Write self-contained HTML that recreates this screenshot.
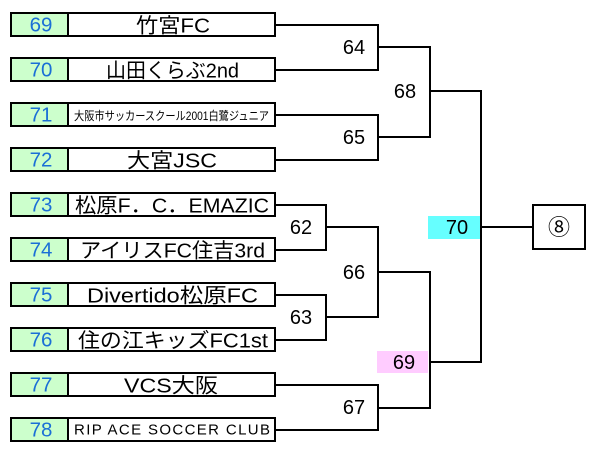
<!DOCTYPE html>
<html><head><meta charset="utf-8">
<style>
html,body{margin:0;padding:0;background:#fff;}
svg{display:block;}
text{font-family:"Liberation Sans","Noto Sans CJK JP",sans-serif;}
</style></head>
<body>
<svg width="600" height="453" viewBox="0 0 600 453" xmlns="http://www.w3.org/2000/svg">
<rect x="0" y="0" width="600" height="453" fill="#fff"/>

<rect x="428" y="216" width="52" height="23" fill="#66ffff"/>
<rect x="377" y="351" width="51" height="22" fill="#ffccff"/>

<g stroke="#000" stroke-width="2" fill="none">
  <polyline points="276,25 378,25 378,70 276,70"/>
  <polyline points="276,115 378,115 378,160 276,160"/>
  <polyline points="276,205 326,205 326,250 276,250"/>
  <polyline points="276,295 326,295 326,340 276,340"/>
  <polyline points="276,385 378,385 378,430 276,430"/>
  <polyline points="378,47 430,47 430,137 378,137"/>
  <polyline points="326,227 378,227 378,317 326,317"/>
  <polyline points="378,272 430,272 430,408 378,408"/>
  <polyline points="430,91 481,91 481,362 430,362"/>
  <line x1="481" y1="227" x2="533" y2="227"/>
  <rect x="533" y="205" width="52" height="44" fill="#fff"/>
</g>

<text x="559" y="235" font-size="22" text-anchor="middle" fill="#000">⑧</text>

<g>
  <g transform="translate(0,12)">
    <rect x="11" y="1" width="264" height="23" fill="#fff" stroke="#000" stroke-width="2"/>
    <rect x="12" y="2" width="55" height="21" fill="#ccffcc"/>
    <line x1="68" y1="1" x2="68" y2="24" stroke="#000" stroke-width="2"/>
    <text x="41" y="19.5" font-size="20.5" text-anchor="middle" fill="#1a6fd6">69</text>
    <text x="136" y="20.5" font-size="20.5" textLength="74" lengthAdjust="spacingAndGlyphs" fill="#000">竹宮FC</text>
  </g>
  <g transform="translate(0,57)">
    <rect x="11" y="1" width="264" height="23" fill="#fff" stroke="#000" stroke-width="2"/>
    <rect x="12" y="2" width="55" height="21" fill="#ccffcc"/>
    <line x1="68" y1="1" x2="68" y2="24" stroke="#000" stroke-width="2"/>
    <text x="41" y="19.5" font-size="20.5" text-anchor="middle" fill="#1a6fd6">70</text>
    <text x="106" y="20.5" font-size="20.5" textLength="133" lengthAdjust="spacingAndGlyphs" fill="#000">山田くらぶ2nd</text>
  </g>
  <g transform="translate(0,102)">
    <rect x="11" y="1" width="264" height="23" fill="#fff" stroke="#000" stroke-width="2"/>
    <rect x="12" y="2" width="55" height="21" fill="#ccffcc"/>
    <line x1="68" y1="1" x2="68" y2="24" stroke="#000" stroke-width="2"/>
    <text x="41" y="19.5" font-size="20.5" text-anchor="middle" fill="#1a6fd6">71</text>
    <text x="74" y="18" font-size="12" textLength="195" lengthAdjust="spacingAndGlyphs" fill="#000">大阪市サッカースクール2001白鷺ジュニア</text>
  </g>
  <g transform="translate(0,147)">
    <rect x="11" y="1" width="264" height="23" fill="#fff" stroke="#000" stroke-width="2"/>
    <rect x="12" y="2" width="55" height="21" fill="#ccffcc"/>
    <line x1="68" y1="1" x2="68" y2="24" stroke="#000" stroke-width="2"/>
    <text x="41" y="19.5" font-size="20.5" text-anchor="middle" fill="#1a6fd6">72</text>
    <text x="127" y="20.5" font-size="20.5" textLength="90" lengthAdjust="spacingAndGlyphs" fill="#000">大宮JSC</text>
  </g>
  <g transform="translate(0,192)">
    <rect x="11" y="1" width="264" height="23" fill="#fff" stroke="#000" stroke-width="2"/>
    <rect x="12" y="2" width="55" height="21" fill="#ccffcc"/>
    <line x1="68" y1="1" x2="68" y2="24" stroke="#000" stroke-width="2"/>
    <text x="41" y="19.5" font-size="20.5" text-anchor="middle" fill="#1a6fd6">73</text>
    <text x="75" y="20.5" font-size="20.5" textLength="194" lengthAdjust="spacingAndGlyphs" fill="#000">松原F．C．EMAZIC</text>
  </g>
  <g transform="translate(0,237)">
    <rect x="11" y="1" width="264" height="23" fill="#fff" stroke="#000" stroke-width="2"/>
    <rect x="12" y="2" width="55" height="21" fill="#ccffcc"/>
    <line x1="68" y1="1" x2="68" y2="24" stroke="#000" stroke-width="2"/>
    <text x="41" y="19.5" font-size="20.5" text-anchor="middle" fill="#1a6fd6">74</text>
    <text x="80" y="20.5" font-size="20.5" textLength="185" lengthAdjust="spacingAndGlyphs" fill="#000">アイリスFC住吉3rd</text>
  </g>
  <g transform="translate(0,282)">
    <rect x="11" y="1" width="264" height="23" fill="#fff" stroke="#000" stroke-width="2"/>
    <rect x="12" y="2" width="55" height="21" fill="#ccffcc"/>
    <line x1="68" y1="1" x2="68" y2="24" stroke="#000" stroke-width="2"/>
    <text x="41" y="19.5" font-size="20.5" text-anchor="middle" fill="#1a6fd6">75</text>
    <text x="87" y="20.5" font-size="20.5" textLength="171" lengthAdjust="spacingAndGlyphs" fill="#000">Divertido松原FC</text>
  </g>
  <g transform="translate(0,327)">
    <rect x="11" y="1" width="264" height="23" fill="#fff" stroke="#000" stroke-width="2"/>
    <rect x="12" y="2" width="55" height="21" fill="#ccffcc"/>
    <line x1="68" y1="1" x2="68" y2="24" stroke="#000" stroke-width="2"/>
    <text x="41" y="19.5" font-size="20.5" text-anchor="middle" fill="#1a6fd6">76</text>
    <text x="78" y="20.5" font-size="20.5" textLength="190" lengthAdjust="spacingAndGlyphs" fill="#000">住の江キッズFC1st</text>
  </g>
  <g transform="translate(0,372)">
    <rect x="11" y="1" width="264" height="23" fill="#fff" stroke="#000" stroke-width="2"/>
    <rect x="12" y="2" width="55" height="21" fill="#ccffcc"/>
    <line x1="68" y1="1" x2="68" y2="24" stroke="#000" stroke-width="2"/>
    <text x="41" y="19.5" font-size="20.5" text-anchor="middle" fill="#1a6fd6">77</text>
    <text x="124" y="20.5" font-size="20.5" textLength="94" lengthAdjust="spacingAndGlyphs" fill="#000">VCS大阪</text>
  </g>
  <g transform="translate(0,417)">
    <rect x="11" y="1" width="264" height="23" fill="#fff" stroke="#000" stroke-width="2"/>
    <rect x="12" y="2" width="55" height="21" fill="#ccffcc"/>
    <line x1="68" y1="1" x2="68" y2="24" stroke="#000" stroke-width="2"/>
    <text x="41" y="19.5" font-size="20.5" text-anchor="middle" fill="#1a6fd6">78</text>
    <text x="74" y="17.5" font-size="15" textLength="196" lengthAdjust="spacing" fill="#000">RIP ACE SOCCER CLUB</text>
  </g>
</g>

<g font-size="20" fill="#000" text-anchor="middle">
  <text x="354" y="54">64</text>
  <text x="354" y="144">65</text>
  <text x="405" y="98">68</text>
  <text x="301" y="234">62</text>
  <text x="301" y="324">63</text>
  <text x="354" y="279">66</text>
  <text x="354" y="414">67</text>
  <text x="457" y="234">70</text>
  <text x="404" y="369">69</text>
</g>
</svg>
</body></html>
